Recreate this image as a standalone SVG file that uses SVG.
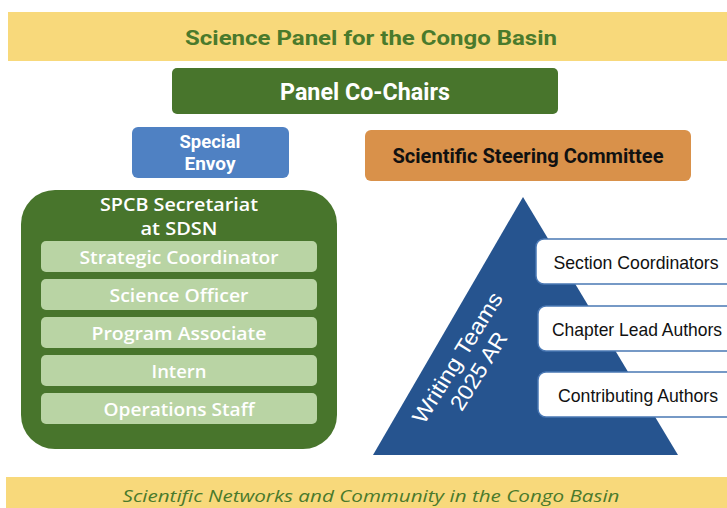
<svg xmlns="http://www.w3.org/2000/svg" width="727" height="508" viewBox="0 0 727 508">
<style>
.band{fill:#f8d97b}
.green{fill:#48752c}
.row{fill:#b9d4a4}
.head{font-family:Roboto,"Liberation Sans",Arial,sans-serif;font-weight:700;text-anchor:middle}
.mont{font-family:"Open Sans","Noto Sans",sans-serif;font-weight:600;fill:#fff;text-anchor:middle}
.lbl{fill:#fff;stroke:#4a78b4;stroke-width:1.5}
.lt{font-family:"Liberation Sans",Arial,sans-serif;font-size:19px;fill:#111;text-anchor:middle}
</style>
<rect width="727" height="508" fill="#fff"/>
<g id="title">
<rect class="band" x="8" y="12" width="719" height="49"/>
<text class="head" x="371" y="45" font-size="21" fill="#4a7a2c" textLength="372" lengthAdjust="spacingAndGlyphs">Science Panel for the Congo Basin</text>
</g>
<g id="co-chairs">
<rect class="green" x="172" y="68" width="386" height="46" rx="5"/>
<text class="head" x="365" y="100" font-size="23" fill="#fff" textLength="170" lengthAdjust="spacingAndGlyphs">Panel Co-Chairs</text>
</g>
<g id="special-envoy">
<rect x="132" y="127" width="157" height="51" rx="6" fill="#4f81c3"/>
<text class="head" x="210" y="148" font-size="19" fill="#fff" textLength="61" lengthAdjust="spacingAndGlyphs">Special</text>
<text class="head" x="210" y="170" font-size="19" fill="#fff" textLength="51" lengthAdjust="spacingAndGlyphs">Envoy</text>
</g>
<g id="steering-committee">
<rect x="365" y="130" width="326" height="51" rx="6" fill="#d9914a"/>
<text class="head" x="528" y="163" font-size="21" fill="#111" textLength="271" lengthAdjust="spacingAndGlyphs">Scientific Steering Committee</text>
</g>
<g id="secretariat">
<rect class="green" x="21" y="190" width="316" height="259" rx="34"/>
<text class="mont" x="179" y="211" font-size="18" font-weight="700" textLength="158" lengthAdjust="spacingAndGlyphs">SPCB Secretariat</text>
<text class="mont" x="179" y="235" font-size="18" font-weight="700" textLength="77" lengthAdjust="spacingAndGlyphs">at SDSN</text>
<g id="strategic-coordinator">
<rect class="row" x="41" y="241" width="276" height="31" rx="5"/>
<text class="mont" x="179" y="264" font-size="18" textLength="199" lengthAdjust="spacingAndGlyphs">Strategic Coordinator</text>
</g>
<g id="science-officer">
<rect class="row" x="41" y="279" width="276" height="31" rx="5"/>
<text class="mont" x="179" y="302" font-size="18" textLength="139" lengthAdjust="spacingAndGlyphs">Science Officer</text>
</g>
<g id="program-associate">
<rect class="row" x="41" y="317" width="276" height="31" rx="5"/>
<text class="mont" x="179" y="340" font-size="18" textLength="175" lengthAdjust="spacingAndGlyphs">Program Associate</text>
</g>
<g id="intern">
<rect class="row" x="41" y="355" width="276" height="31" rx="5"/>
<text class="mont" x="179" y="378" font-size="18" textLength="55" lengthAdjust="spacingAndGlyphs">Intern</text>
</g>
<g id="operations-staff">
<rect class="row" x="41" y="393" width="276" height="31" rx="5"/>
<text class="mont" x="179" y="416" font-size="18" textLength="151" lengthAdjust="spacingAndGlyphs">Operations Staff</text>
</g>
</g>
<g id="writing-teams">
<polygon points="523,197 373,455 678,455" fill="#26548f"/>
<g transform="translate(474,368) rotate(-58)" font-family="'Liberation Sans',Arial,sans-serif" font-size="22" fill="#fff" text-anchor="middle">
<text x="0" y="-12" textLength="150" lengthAdjust="spacingAndGlyphs">Writing Teams</text>
<text x="0" y="13" textLength="88" lengthAdjust="spacingAndGlyphs">2025 AR</text>
</g>
</g>
<g id="section-coordinators">
<rect class="lbl" x="536" y="239" width="200" height="45" rx="8"/>
<text class="lt" x="636" y="269" textLength="165" lengthAdjust="spacingAndGlyphs">Section Coordinators</text>
</g>
<g id="chapter-lead-authors">
<rect class="lbl" x="538" y="306" width="200" height="45" rx="8"/>
<text class="lt" x="637" y="336" textLength="170" lengthAdjust="spacingAndGlyphs">Chapter Lead Authors</text>
</g>
<g id="contributing-authors">
<rect class="lbl" x="538" y="372" width="200" height="45" rx="8"/>
<text class="lt" x="638" y="402" textLength="160" lengthAdjust="spacingAndGlyphs">Contributing Authors</text>
</g>
<g id="footer">
<rect class="band" x="6" y="477" width="721" height="31"/>
<text x="371" y="502" font-family="'Open Sans','Noto Sans',sans-serif" font-style="italic" font-size="17" fill="#4a7a2c" text-anchor="middle" textLength="497" lengthAdjust="spacingAndGlyphs">Scientific Networks and Community in the Congo Basin</text>
</g>
<g id="connectors"></g>
</svg>
